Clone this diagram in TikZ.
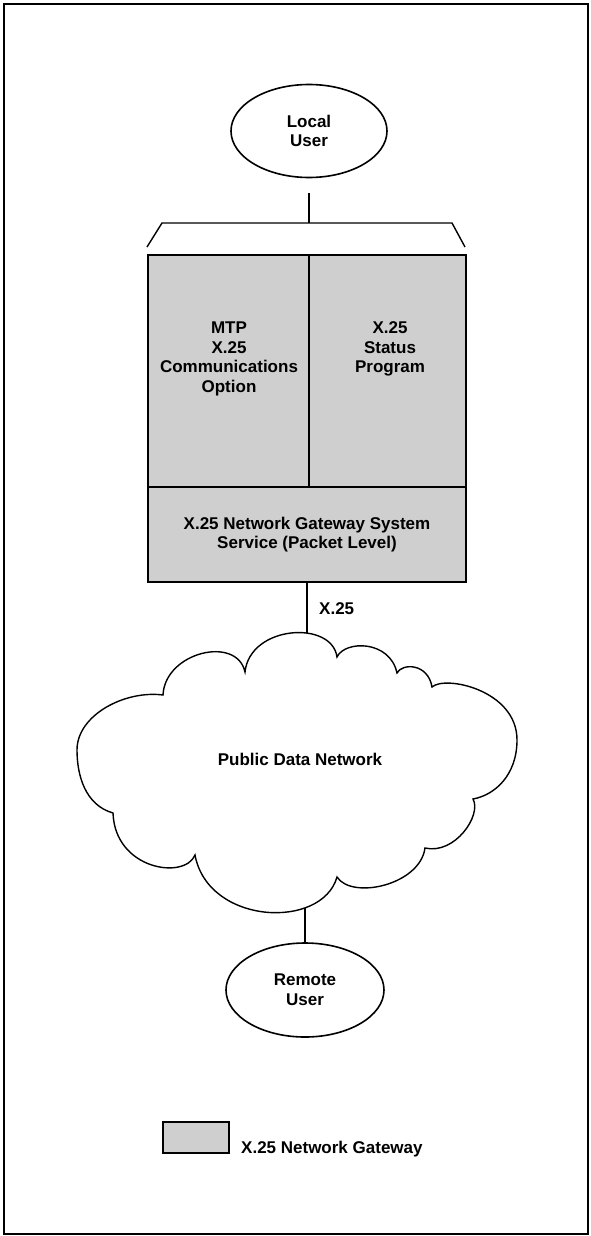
\documentclass[tikz,border=0pt]{standalone}
\usepackage{fontspec}
\setmainfont{Liberation Sans}
\usetikzlibrary{shapes.geometric}
\begin{document}
\begin{tikzpicture}[x=1pt,y=-1pt,
  lbl/.style={font=\bfseries\fontsize{17}{19.8}\selectfont, align=center, inner sep=0pt},
  user/.style={ellipse, draw, line width=1.6pt, lbl, minimum width=156pt, minimum height=93pt},
  gw/.style={draw, line width=1.8pt, fill=black!19, inner sep=0pt},
  wire/.style={line width=1.4pt}]
\useasboundingbox (0,0) rectangle (591,1236);
% page frame
\draw[line width=1.5pt] (4,4) rectangle (588,1234);

% users
\node[user] (lu) at (309,131) {Local\\User};
\node[user, minimum width=158pt, minimum height=94pt] (ru) at (305,990) {Remote\\User};

% gateway blocks
\node[gw, minimum width=161pt, minimum height=232pt] (mtp) at (228.5,371) {};
\node[gw, minimum width=157pt, minimum height=232pt] (status) at (387.5,371) {};
\node[gw, lbl, minimum width=318pt, minimum height=95pt] (gateway) at (307,534.5)
  {X.25 Network Gateway System\\Service (Packet Level)};
\node[lbl] (mtptext) at (229,359) {MTP\\X.25\\Communications\\Option};
\node[lbl] (statustext) at (390,349) {X.25\\Status\\Program};

% bracket over the gateway
\coordinate (brtop) at (309,223);
\coordinate (brl) at (147,247);
\coordinate (brlt) at (162,223);
\coordinate (brrt) at (452,223);
\coordinate (brr) at (465,247);
\draw[wire] (brl) -- (brlt) -- (brrt) -- (brr);
\draw[wire, shorten <=15pt] (lu.south) -- (brtop);

% links through the network
\coordinate (cloudtop) at (307,650);
\coordinate (cloudbot) at (305,895);
\draw[wire] (gateway.south) -- (cloudtop);
\draw[wire] (cloudbot) -- (ru.north);
\node[lbl, anchor=west] (x25) at (319,609) {X.25};

% public data network cloud
\draw[wire, fill=white] (245,672)
 .. controls (250,625) and (332,620) .. (337,657)
 .. controls (345,640) and (390,640) .. (397,673)
 .. controls (402,663) and (428,663) .. (432,687)
 .. controls (445,675) and (517,690) .. (517,740)
 .. controls (517,775) and (495,795) .. (473,799)
 .. controls (482,815) and (455,855) .. (425,848)
 .. controls (420,885) and (352,900) .. (337,877)
 .. controls (322,930) and (208,925) .. (195,855)
 .. controls (185,880) and (115,870) .. (113,813)
 .. controls (85,805) and (77,775) .. (77,750)
 .. controls (77,715) and (125,690) .. (163,695)
 .. controls (165,652) and (237,635) .. (245,672) -- cycle;
\node[lbl] (pdn) at (300,759) {Public Data Network};

% legend
\node[gw, minimum width=66pt, minimum height=31pt] (legbox) at (196,1137.5) {};
\node[lbl, anchor=base west] (legtext) at (241,1153) {X.25 Network Gateway};
\end{tikzpicture}
\end{document}
